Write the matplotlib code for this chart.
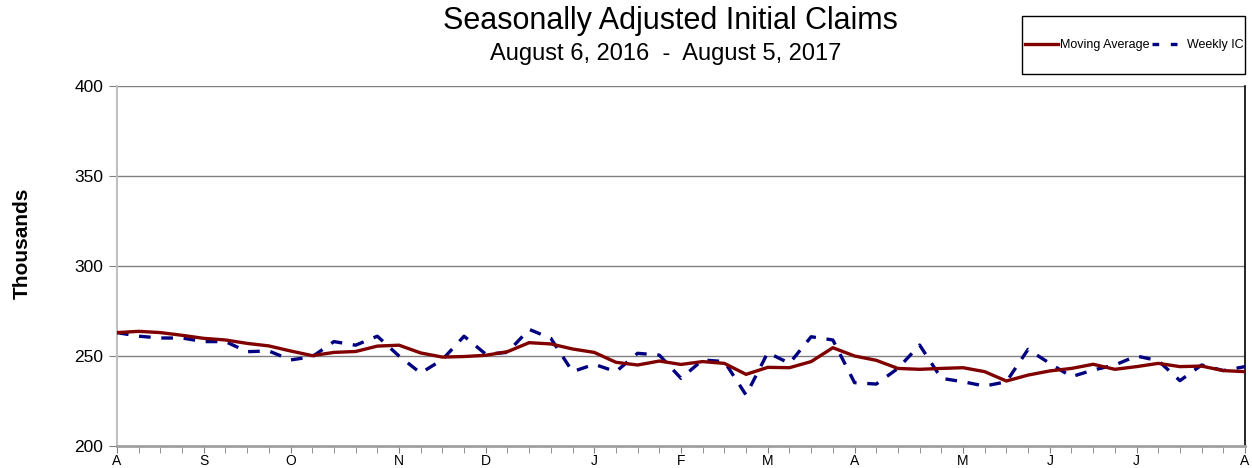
import matplotlib
matplotlib.use("Agg")
import matplotlib.pyplot as plt
from matplotlib.patches import Rectangle
from matplotlib.lines import Line2D

plt.rcParams['font.family'] = ['Liberation Sans', 'DejaVu Sans']

weeks = list(range(53))
moving_average = [263, 263.7, 263, 261.5, 259.8, 258.9, 257, 255.6, 252.8, 250.2,
                  252, 252.5, 255.5, 256, 251.7, 249.4, 249.7, 250.4, 252.4, 257.4,
                  256.7, 253.9, 252, 246.5, 245, 247.2, 245.3, 246.9, 245.9, 239.8,
                  243.7, 243.5, 246.9, 254.6, 250, 247.6, 243.1, 242.6, 243.1, 243.5,
                  241.3, 236.1, 239.4, 241.7, 243.1, 245.4, 242.6, 244.1, 245.9, 244.1,
                  244.4, 241.9, 241.3]
weekly_ic = [263, 261, 260, 260, 258, 258, 252.4, 252.8, 247.8, 249.6,
             258, 256, 261, 250, 240.5, 248, 261, 251, 252, 264.8,
             259.8, 241.3, 245.4, 241.3, 251.5, 250.5, 237.6, 247.8, 246.9, 228.3,
             251.9, 245.9, 260.7, 258.9, 235.2, 234.4, 243.1, 256.1, 237.6, 235.7,
             233.3, 235.7, 253.7, 245.9, 238.5, 242.2, 245, 250, 247.4, 236.3,
             245, 241.9, 244.1]
month_pos = [0, 4, 8, 13, 17, 22, 26, 30, 34, 39, 43, 47, 52]
month_labels = ['A', 'S', 'O', 'N', 'D', 'J', 'F', 'M', 'A', 'M', 'J', 'J', 'A']
y_ticks = [200, 250, 300, 350, 400]

fig = plt.figure(figsize=(12.52, 4.68), dpi=100)
ax = fig.add_axes([117/1252, 1-446/468, (1245-117)/1252, (446-86)/468])

for yv in y_ticks[1:]:
    ax.axhline(yv, color='#808080', lw=1.0, zorder=1)

ax.plot(weeks, weekly_ic, color='#000080', lw=2.4, dashes=(3.5, 3.2), zorder=3)
ax.plot(weeks, moving_average, color='#800000', lw=2.4, zorder=4)

ax.set_xlim(0, 52)
ax.set_ylim(200, 400)
ax.set_yticks(y_ticks)
ax.set_yticklabels([str(v) for v in y_ticks], fontsize=12.5)
ax.set_xticks(month_pos)
ax.set_xticklabels(month_labels, fontsize=10)
ax.set_xticks(weeks, minor=True)
ax.tick_params(axis='x', which='both', direction='out', length=5, color='#808080', pad=1)
ax.tick_params(axis='y', direction='out', length=6, color='#808080', pad=4)

ax.spines['top'].set_visible(False)
ax.spines['left'].set_color('#c0c0c0')
ax.spines['left'].set_linewidth(1.5)
ax.spines['bottom'].set_color('#a0a0a0')
ax.spines['bottom'].set_linewidth(2)
ax.spines['right'].set_color('#000000')
ax.spines['right'].set_linewidth(1.2)

fig.text(22/1252, 1-243/468, 'Thousands', rotation=90, fontsize=15, fontweight='bold',
         ha='center', va='center')
fig.text(670/1252, 1-21/468, 'Seasonally Adjusted Initial Claims', fontsize=22,
         ha='center', va='center')
fig.text(666/1252, 1-54/468, 'August 6, 2016  -  August 5, 2017', fontsize=17,
         ha='center', va='center')

fig.patches.append(Rectangle((1022/1252, 1-74/468), 223/1252, 58/468,
                             transform=fig.transFigure, fill=False, ec='black', lw=1.0))
handles = [Line2D([], [], color='#800000', lw=2.4),
           Line2D([], [], color='#000080', lw=2.4, dashes=(2, 3.5))]
fig.legend(handles, ['Moving Average', 'Weekly IC'], loc='center',
           bbox_to_anchor=(1134/1252, 1-45/468), ncol=2, frameon=False,
           fontsize=9, handlelength=2.7, handletextpad=0.1, columnspacing=0.2)

fig.savefig('out.png', dpi=100)
